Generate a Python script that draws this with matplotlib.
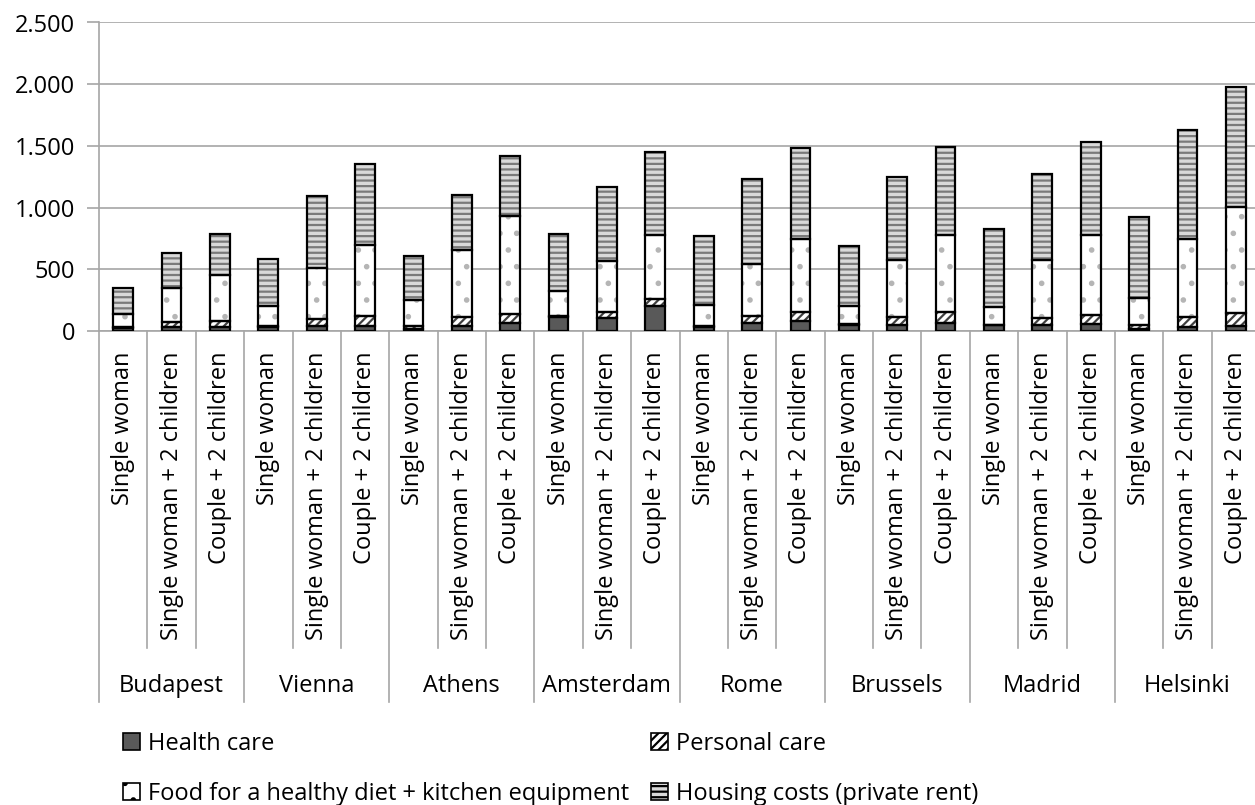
import numpy as np
import matplotlib
matplotlib.use("Agg")
import matplotlib.pyplot as plt
from matplotlib.patches import Patch

plt.rcParams['font.family'] = ['Open Sans', 'DejaVu Sans']
plt.rcParams['hatch.linewidth'] = 1.6

cities = ["Budapest", "Vienna", "Athens", "Amsterdam", "Rome", "Brussels", "Madrid", "Helsinki"]
households = ["Single woman", "Single woman + 2 children", "Couple + 2 children"]

# values per bar, city by city (3 household types each)
health = [25, 30, 30,   30, 40, 40,   20, 40, 65,   115, 105, 200,
          30, 65, 80,   45, 45, 65,   45, 50, 60,   20, 35, 40]
personal = [5, 45, 55,  10, 60, 80,   20, 70, 75,   5, 45, 60,
            10, 60, 70, 10, 70, 85,   5, 55, 70,    25, 75, 105]
food = [110, 275, 365,  160, 410, 575,  215, 550, 795,  205, 420, 515,
        170, 420, 595,  150, 460, 625,  145, 470, 650,  225, 635, 860]
housing = [210, 285, 335,  380, 580, 655,  355, 440, 485,  465, 600, 675,
           560, 685, 735,  485, 670, 715,  635, 700, 750,  650, 880, 975]

yticks = [0, 500, 1000, 1500, 2000, 2500]
ytick_labels = ["0", "500", "1.000", "1.500", "2.000", "2.500"]

series = [
    ("Health care", health, dict(color="#595959", hatch=None, hatchcolor=None)),
    ("Personal care", personal, dict(color="white", hatch="////", hatchcolor="#404040")),
    ("Food for a healthy diet + kitchen equipment", food, dict(color="white", hatch=".", hatchcolor="#b5b5b5")),
    ("Housing costs (private rent)", housing, dict(color="#d9d9d9", hatch="---", hatchcolor="#7a7a7a")),
]

FS = 17

fig = plt.figure(figsize=(12.55, 8.05), dpi=100)
ax = fig.add_axes([99 / 1255, 1 - 331 / 805, 1161 / 1255, 308.5 / 805])

n = len(health)
x = np.arange(n) + 0.5
width = 0.41
bottom = np.zeros(n)
handles = []
for label, vals, st in series:
    vals = np.array(vals, dtype=float)
    ec = st["hatchcolor"] if st["hatch"] else "black"
    ax.bar(x, vals, width, bottom=bottom, color=st["color"], hatch=st["hatch"],
           edgecolor=ec, linewidth=0, zorder=3)
    ax.bar(x, vals, width, bottom=bottom, fill=False, edgecolor="black",
           linewidth=1.6, zorder=4)
    handles.append(Patch(facecolor=st["color"], hatch=st["hatch"], edgecolor="black",
                         linewidth=1.2, label=label))
    bottom += vals

ax.set_xlim(0, n)
ax.set_ylim(0, 2500)
ax.set_yticks(yticks)
ax.set_yticklabels(ytick_labels, fontsize=FS)
ax.yaxis.grid(True, color="#a6a6a6", linewidth=1.2, zorder=0)
ax.set_axisbelow(True)
ax.tick_params(axis="y", length=9, width=1.2, color="#a6a6a6", pad=8)
ax.set_xticks([])
for s in ["top", "right"]:
    ax.spines[s].set_visible(False)
for s in ["left", "bottom"]:
    ax.spines[s].set_color("#a6a6a6")
    ax.spines[s].set_linewidth(1.2)

# multi-level category axis
trans = ax.get_xaxis_transform()
for i in range(n + 1):
    yb = -1.203 if i % 3 == 0 else -1.027
    ax.plot([i, i], [0, yb], color="#a6a6a6", linewidth=1.2, transform=trans,
            clip_on=False)
for i in range(n):
    ax.text(x[i], -0.068, households[i % 3], rotation=90, ha="center", va="top",
            fontsize=FS, transform=trans)
for g, city in enumerate(cities):
    ax.text(g * 3 + 1.5, -1.151, city, ha="center", va="center", fontsize=FS,
            transform=trans)

order = [handles[0], handles[2], handles[1], handles[3]]
fig.legend(handles=order, loc="upper left", bbox_to_anchor=(123 / 1255, 1 - 732 / 805),
           ncol=2, frameon=False, fontsize=FS, handlelength=0.7, handleheight=0.7,
           handletextpad=0.35, columnspacing=0.94, labelspacing=1.08, borderaxespad=0,
           borderpad=0, alignment="left")

fig.savefig("out.png", dpi=100)
